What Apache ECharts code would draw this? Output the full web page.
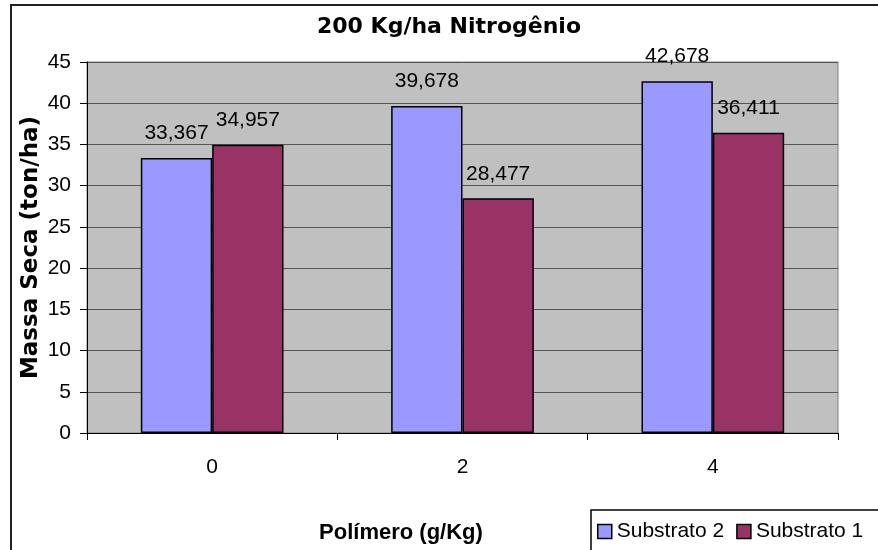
<!DOCTYPE html>
<html>
<head>
<meta charset="utf-8">
<script src="https://cdn.jsdelivr.net/npm/echarts@6/dist/echarts.min.js"></script>
<style>html,body{margin:0;padding:0;background:#fff}#c{width:878px;height:550px}</style>
</head>
<body>
<div id="c"></div>
<script>
const categories = ['0', '2', '4'];
const substrato2 = [33.367, 39.678, 42.678];
const substrato1 = [34.957, 28.477, 36.411];
const seriesNames = ['Substrato 2', 'Substrato 1'];
const titleText = '200 Kg/ha Nitrogênio';
const xTitle = 'Polímero (g/Kg)';
const yTitle = 'Massa Seca (ton/ha)';

const chart = echarts.init(document.getElementById('c'));
const fmt = p => p.value.toFixed(3).replace('.', ',');
const labelCfg = {
  show: true, position: 'top', distance: 14,
  fontFamily: 'Liberation Sans', fontSize: 21, color: '#000', formatter: fmt
};
chart.setOption({
  animation: false,
  backgroundColor: '#fff',
  graphic: [{
    type: 'rect', z: -10,
    shape: { x: 11, y: 5, width: 900, height: 600 },
    style: { fill: '#fff', stroke: '#222', lineWidth: 2 }
  }, {
    type: 'text', x: 31, y: 247.5, rotation: Math.PI / 2,
    style: {
      text: yTitle, align: 'center', verticalAlign: 'middle',
      fontFamily: 'DejaVu Sans', fontWeight: 'bold', fontSize: 23, fill: '#000'
    }
  }],
  title: [{
    text: titleText, left: 444, top: 11, textAlign: 'center',
    textStyle: { fontFamily: 'DejaVu Sans', fontWeight: 'bold', fontSize: 22, color: '#000' }
  }, {
    text: xTitle, left: 396, top: 517, textAlign: 'center',
    textStyle: { fontFamily: 'Liberation Sans', fontWeight: 'bold', fontSize: 22, color: '#000' }
  }],
  legend: {
    data: seriesNames, left: 591, top: 510, width: 300, orient: 'horizontal',
    padding: [11, 20, 20, 6], itemGap: 12,
    itemWidth: 14, itemHeight: 14, icon: 'rect',
    borderColor: '#000', borderWidth: 1.5, backgroundColor: '#fff',
    itemStyle: { borderColor: '#000', borderWidth: 1.5 },
    textStyle: { fontFamily: 'Liberation Sans', fontSize: 21, color: '#000' }
  },
  grid: {
    left: 87, right: 40, top: 62, bottom: 117, show: true,
    backgroundColor: '#C0C0C0', borderColor: '#808080', borderWidth: 1
  },
  xAxis: {
    type: 'category', data: categories,
    axisLine: { lineStyle: { color: '#000', width: 1 } },
    axisTick: { show: true, length: 7, lineStyle: { color: '#000' } },
    axisLabel: { margin: 24, fontFamily: 'Liberation Sans', fontSize: 21, color: '#000' },
    splitLine: { show: false }
  },
  yAxis: {
    type: 'value', min: 0, max: 45, interval: 5,
    axisLine: { show: true, lineStyle: { color: '#000', width: 1 } },
    axisTick: { show: true, length: 7, lineStyle: { color: '#000' } },
    axisLabel: { margin: 16, fontFamily: 'Liberation Sans', fontSize: 21, color: '#000' },
    splitLine: { show: true, lineStyle: { color: '#555', width: 1 } }
  },
  series: [{
    name: seriesNames[0], type: 'bar', data: substrato2,
    barGap: '0%', barCategoryGap: '43%',
    itemStyle: { color: '#9999FF', borderColor: '#000', borderWidth: 1.5 },
    label: labelCfg
  }, {
    name: seriesNames[1], type: 'bar', data: substrato1,
    barGap: '0%', barCategoryGap: '43%',
    itemStyle: { color: '#993366', borderColor: '#000', borderWidth: 1.5 },
    label: labelCfg
  }]
});
</script>
</body>
</html>
